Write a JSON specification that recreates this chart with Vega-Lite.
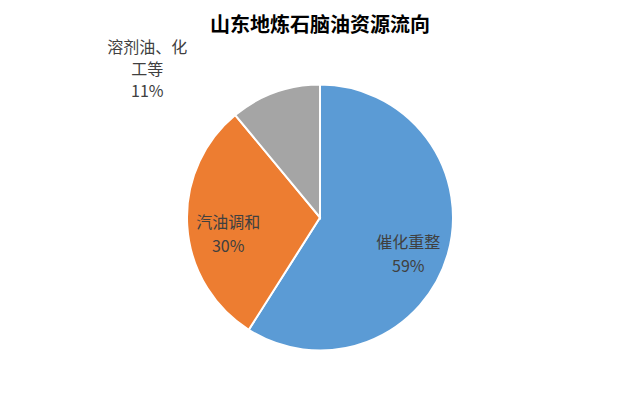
{
  "$schema": "https://vega.github.io/schema/vega-lite/v6.json",
  "autosize": {"type": "fit", "contains": "padding"},
  "width": 640,
  "height": 394,
  "padding": {"top": 17, "left": 0, "right": 0, "bottom": 0},
  "background": "white",
  "title": {
    "text": "山东地炼石脑油资源流向",
    "font": "Noto Sans CJK SC",
    "fontSize": 20,
    "fontWeight": "bold",
    "color": "#000000",
    "anchor": "middle",
    "offset": 4
  },
  "data": {
    "values": [
      {"cat": "催化重整", "value": 59, "label": "催化重整\n59%"},
      {"cat": "汽油调和", "value": 30, "label": "汽油调和\n30%"},
      {"cat": "溶剂油、化工等", "value": 11, "label": "溶剂油、化\n工等\n11%"}
    ]
  },
  "layer": [
    {
      "mark": {"type": "arc", "radius": 133, "stroke": "white", "strokeWidth": 2},
      "encoding": {
        "theta": {"field": "value", "type": "quantitative", "stack": true},
        "color": {
          "field": "cat",
          "type": "nominal",
          "scale": {"domain": ["催化重整", "汽油调和", "溶剂油、化工等"], "range": ["#5B9BD5", "#ED7D31", "#A5A5A5"]},
          "legend": null
        }
      }
    },
    {
      "mark": {"type": "text", "radius": 92, "lineBreak": "\n", "font": "Noto Sans CJK SC", "fontSize": 16, "color": "#404040", "lineHeight": 24},
      "encoding": {
        "theta": {"field": "value", "type": "quantitative", "stack": true},
        "detail": {"field": "cat", "type": "nominal"},
        "text": {"condition": {"test": "datum.cat !== '溶剂油、化工等'", "field": "label", "type": "nominal"}, "value": ""}
      }
    },
    {
      "mark": {"type": "text", "radius": 242, "thetaOffset": -0.449, "lineBreak": "\n", "font": "Noto Sans CJK SC", "fontSize": 16, "color": "#404040", "lineHeight": 22},
      "encoding": {
        "theta": {"field": "value", "type": "quantitative", "stack": true},
        "detail": {"field": "cat", "type": "nominal"},
        "text": {"condition": {"test": "datum.cat === '溶剂油、化工等'", "field": "label", "type": "nominal"}, "value": ""}
      }
    }
  ],
  "config": {"view": {"stroke": null}}
}
